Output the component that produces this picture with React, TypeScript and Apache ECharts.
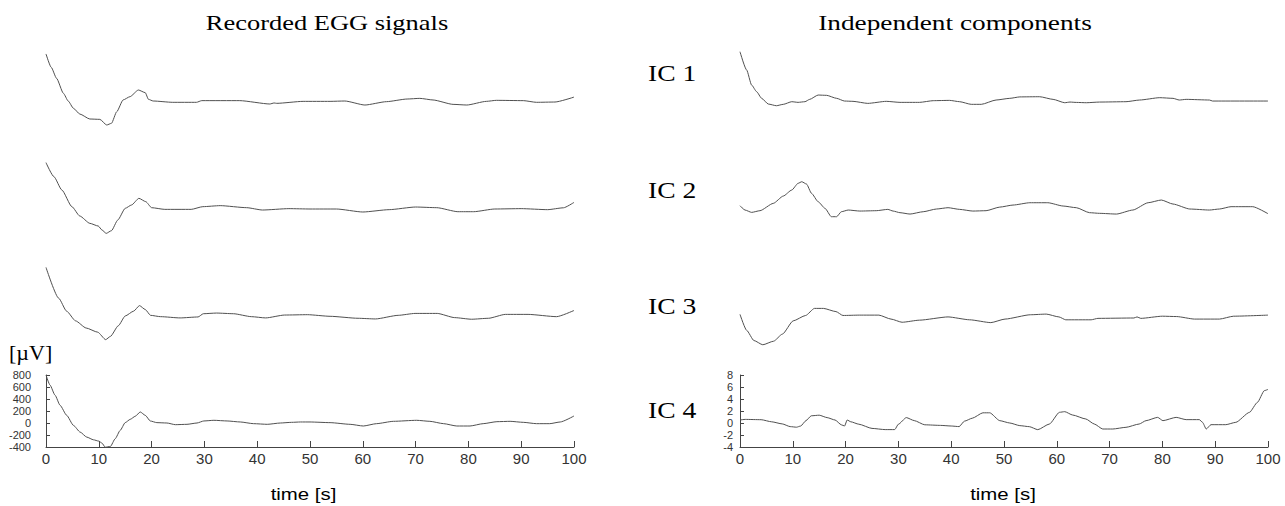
import React, { useEffect, useRef } from "react";
import * as echarts from "echarts";

// ---------- text ----------
const leftTitle = "Recorded EGG signals";
const rightTitle = "Independent components";
const icLabels = ["IC 1", "IC 2", "IC 3", "IC 4"];
const unitLabel = "[\u00b5V]";
const timeLabel = "time [s]";

// ---------- axes ----------
const timeRange = [0, 100];
const timeStep = 10;
const eggRange = [-400, 800];
const eggStep = 200;
const icRange = [-4, 8];
const icStep = 2;

// ---------- recorded EGG signals [µV] (time s, value) ----------
const egg1: [number, number][] = [
  [0, 784], [1, 560], [2, 378], [3.3, 128], [4.2, 0], [5.2, -122], [6.4, -217], [8.3, -300], [10.2, -306],
  [11.5, -400], [12.4, -372], [13.4, -178], [14.6, 17], [15.9, 72], [17.5, 183], [18.8, 139],
  [19.4, 28], [20.3, 0], [24, -22], [28.5, -22], [29.5, 6], [36.7, 6], [42.4, -50], [43.2, -33],
  [43.7, -39], [48.7, -6], [53.8, -6], [56.6, 0], [60.4, -67], [64.5, -11], [68.4, 33], [70.8, 44],
  [73.3, 17], [77.1, -56], [79.7, -67], [83.4, -6], [85.3, 11], [90.4, 6], [92.9, -22], [96.4, -17],
  [100, 65],
];
const egg2: [number, number][] = [
  [0, 773], [1.5, 539], [3, 317], [4.9, 39], [6.4, -117], [8.3, -239], [9.9, -284], [10.6, -350],
  [11.4, -406], [12.4, -361], [13.6, -183], [15, 11], [16.2, 67], [17.6, 178], [18.9, 122], [20, 22],
  [22.5, -6], [27.5, -6], [29.7, 39], [33, 56], [38, 22], [41, -17], [46, 6], [50, 0], [55, 0],
  [60, -50], [65, -11], [70, 33], [74, 22], [78, -45], [81, -45], [85, 0], [90, 6], [95, -11],
  [98, 20], [100, 110],
];
const egg3: [number, number][] = [
  [0, 810], [2.4, 297], [3.9, 81], [5.6, -81], [7.6, -200], [9.8, -270], [11.3, -394], [12.2, -340],
  [13.7, -162], [15, 0], [16.6, 81], [17.7, 173], [18.8, 108], [19.8, 11], [21.7, -11], [25.4, -32],
  [28.8, -16], [29.8, 38], [32.3, 49], [35.5, 38], [38.9, -11], [41.6, -32], [45.2, 16], [49.5, 22],
  [53.8, -5], [59.1, -38], [62.4, -49], [66.7, 11], [69.9, 43], [74.1, 43], [77.4, -27], [80.6, -54],
  [83.8, -38], [87, 27], [91.3, 27], [96.7, -11], [100, 92],
];
const egg4: [number, number][] = [
  [0, 800], [0.76, 632], [1.71, 464], [2.66, 296], [3.92, 128], [5.19, -39], [6.46, -151],
  [7.72, -235], [8.99, -280], [10, -302], [10.6, -335], [11.2, -403], [12.2, -391], [13.1, -263],
  [14.05, -123], [15, 6], [15.95, 61], [16.9, 112], [17.85, 184], [18.8, 128], [19.75, 34], [21, 6],
  [22.9, 0], [24.5, -28], [26.7, -22], [28.6, 0], [29.9, 34], [31.8, 45], [34.3, 34], [36.8, 17],
  [39.3, -11], [41.9, -22], [44.4, 0], [46.5, 11], [48.2, 17], [50, 17], [53.8, 6], [57.6, -22],
  [60.1, -50], [62.6, -11], [65.8, 28], [70.2, 45], [72.7, 28], [75.3, -11], [77.8, -50], [80.3, -50],
  [82.8, -11], [85.4, 22], [87.9, 28], [90.4, 11], [92.9, -11], [95.4, -11], [97.4, 17], [100, 117],
];

// ---------- independent components (time s, value) ----------
const ic1: [number, number][] = [
  [0, 8.33], [1.26, 5.28], [2.2, 2.78], [3.15, 1.67], [4.1, 0.56], [5.36, -0.39], [6.9, -0.67],
  [8.2, -0.44], [9.8, 0], [11, -0.11], [12.3, 0], [13.2, 0.39], [14.8, 1.11], [16.4, 1.06],
  [18.3, 0.56], [19.8, 0.11], [21.4, 0.06], [24.2, -0.28], [27.7, 0.06], [30.3, -0.11], [34, -0.11],
  [36.6, 0.17], [39.7, 0.22], [41.6, 0], [43.8, -0.44], [45.7, -0.44], [48.5, 0.28], [51.1, 0.56],
  [53, 0.8], [56.75, 0.83], [59.3, 0.39], [61.5, -0.17], [62.5, -0.06], [63.7, -0.12], [65.6, -0.17],
  [68.1, -0.06], [73.1, 0], [75.7, 0.28], [79.5, 0.67], [82, 0.56], [83.2, 0.28], [84.5, 0.39],
  [88.9, 0.28], [89.5, 0.11], [100, 0.11],
];
const ic2: [number, number][] = [
  [0, 0.83], [0.95, 0.11], [2.2, -0.28], [3.78, 0], [6.3, 1.22], [8.2, 2.44], [9.8, 3.44], [11, 4.56],
  [11.7, 4.83], [12.6, 4.44], [13.55, 2.89], [14.8, 1.5], [16.1, 0.39], [17.3, -1.0], [18.3, -1.0],
  [19.2, -0.17], [20.5, 0.11], [22.7, -0.06], [25.8, 0], [28, 0.22], [29, -0.06], [30.3, -0.33],
  [32.2, -0.56], [34.7, -0.17], [37.2, 0.28], [39.4, 0.5], [41.6, 0.22], [44.1, -0.06], [46.6, 0],
  [49.2, 0.6], [51.7, 0.94], [54.9, 1.33], [58.3, 1.33], [61.2, 0.78], [63.7, 0.5], [66.2, -0.33],
  [68.1, -0.44], [71.3, -0.56], [74.4, 0.11], [77.3, 1.33], [79.8, 1.78], [82, 1.11], [85.2, 0.28],
  [88.9, 0.11], [90.8, 0.28], [93, 0.67], [97.1, 0.67], [100, -0.5],
];
const ic3: [number, number][] = [
  [0, 0.6], [1.28, -2.08], [2.63, -3.75], [4.32, -4.46], [6.35, -3.87], [8.04, -2.68], [10.07, -0.48],
  [12.43, 0.42], [14.1, 1.6], [15.8, 1.6], [18.17, 1.07], [19.5, 0.42], [22.6, 0.48], [26.3, 0.48],
  [28.6, -0.18], [30.7, -0.71], [34, -0.36], [39.4, 0.18], [43.5, -0.3], [47.5, -0.77], [50.2, -0.18],
  [55, 0.54], [58, 0.65], [60.4, 0.18], [61.7, -0.3], [66.5, -0.3], [67.8, -0.06], [74.6, 0],
  [75.2, 0.18], [75.9, -0.06], [80, 0.3], [82.7, 0.24], [86.1, -0.18], [90.8, -0.18], [93.5, 0.3],
  [100, 0.48],
];
const ic4: [number, number][] = [
  [0, 0.5], [1, 0.6], [4, 0.55], [6, 0.2], [8, -0.15], [9.5, -0.6], [10.7, -0.7], [11.5, -0.5],
  [12.5, 0.4], [13.5, 1.2], [15, 1.3], [16.5, 0.9], [18, 0.5], [19.2, -0.3], [19.8, -0.5], [20.3, 0.5],
  [21, 0.2], [22.5, -0.2], [25, -0.9], [27.5, -1.1], [29.3, -1.1], [30, -0.2], [31.5, 0.9], [33, 0.4],
  [35, -0.3], [38, -0.4], [40, -0.5], [41.5, -0.6], [42.5, 0.3], [44, 0.8], [46, 1.7], [47.3, 1.7],
  [49.2, 0.39], [51.1, 0], [53, -0.44], [54.8, -0.61], [56.4, -1.11], [58.6, -0.17], [60.5, 1.78],
  [61.5, 1.89], [63, 1.33], [65.5, 0.67], [67.1, -0.17], [68.7, -1.0], [70.6, -1.0], [73.1, -0.72],
  [75.6, -0.17], [76.9, 0.39], [79.1, 0.94], [80.1, 0.39], [82.6, 0.94], [84.5, 0.56], [87, 0.56],
  [87.6, 0.11], [88.3, -1.0], [89.2, -0.28], [92, -0.28], [93.9, 0.11], [96.5, 1.78], [98, 3.44],
  [99.3, 5.39], [100, 5.6],
];

const eggSeries = [egg1, egg2, egg3, egg4];
const icSeries = [ic1, ic2, ic3, ic4];

// layout (pixels)
const LEFT_X = 46;
const RIGHT_X = 740;
const PLOT_W = 528;
const PLOT_H = 72;
const eggZero = [101, 209, 316, 423];
const icZero = [101.7, 210.7, 318, 423];
const icLabelY = [73, 190, 306, 410];

const LINE = "#505050";
const AXIS = "#444";

export default function App() {
  const ref = useRef<HTMLDivElement>(null);

  useEffect(() => {
    if (!ref.current) return;
    const chart = echarts.init(ref.current, undefined, { renderer: "svg" });

    const grids: any[] = [];
    const xAxes: any[] = [];
    const yAxes: any[] = [];
    const series: any[] = [];

    const addPanel = (
      left: number,
      zero: number,
      range: number[],
      step: number,
      data: [number, number][],
      withAxes: boolean,
      yMargin: number
    ) => {
      const idx = grids.length;
      const above = ((range[1] - 0) / (range[1] - range[0])) * PLOT_H;
      grids.push({ left, top: zero - above, width: PLOT_W, height: PLOT_H, containLabel: false });
      xAxes.push({
        gridIndex: idx,
        type: "value",
        min: timeRange[0],
        max: timeRange[1],
        interval: timeStep,
        show: withAxes,
        axisLine: { show: true, onZero: false, lineStyle: { color: AXIS, width: 1 } },
        axisTick: { show: true, inside: true, length: 6, lineStyle: { color: AXIS } },
        axisLabel: {
          show: true,
          margin: 4,
          fontSize: 15,
          fontFamily: "Liberation Sans, Arial, sans-serif",
          color: "#333",
        },
        splitLine: { show: false },
      });
      yAxes.push({
        gridIndex: idx,
        type: "value",
        min: range[0],
        max: range[1],
        interval: step,
        show: withAxes,
        axisLine: { show: true, lineStyle: { color: AXIS, width: 1 } },
        axisTick: { show: true, inside: true, length: 4, lineStyle: { color: AXIS } },
        axisLabel: {
          show: true,
          margin: yMargin,
          fontSize: 11,
          lineHeight: 11,
          fontFamily: "Liberation Sans, Arial, sans-serif",
          color: "#333",
        },
        splitLine: { show: false },
      });
      series.push({
        type: "line",
        xAxisIndex: idx,
        yAxisIndex: idx,
        data,
        showSymbol: false,
        symbol: "none",
        smooth: 0.2,
        smoothMonotone: "x",
        clip: false,
        silent: true,
        lineStyle: { color: LINE, width: 1 },
      });
    };

    eggSeries.forEach((d, i) => addPanel(LEFT_X, eggZero[i], eggRange, eggStep, d, i === 3, 15));
    icSeries.forEach((d, i) => addPanel(RIGHT_X, icZero[i], icRange, icStep, d, i === 3, 7));

    const serif = "Liberation Serif, Times New Roman, serif";
    const sans = "Liberation Sans, Arial, sans-serif";
    const graphics: any[] = [
      {
        type: "text",
        x: 327,
        y: 23,
        scaleX: 1.26,
        style: { text: leftTitle, fontSize: 21, fontFamily: serif, fill: "#000", textAlign: "center", textVerticalAlign: "middle" },
      },
      {
        type: "text",
        x: 955,
        y: 23,
        scaleX: 1.3,
        style: { text: rightTitle, fontSize: 21, fontFamily: serif, fill: "#000", textAlign: "center", textVerticalAlign: "middle" },
      },
      {
        type: "text",
        x: 9,
        y: 352,
        style: { text: unitLabel, fontSize: 22, fontFamily: serif, fill: "#000", textAlign: "left", textVerticalAlign: "middle" },
      },
      {
        type: "text",
        x: 303.5,
        y: 494,
        scaleX: 1.2,
        style: { text: timeLabel, fontSize: 17, fontFamily: sans, fill: "#000", textAlign: "center", textVerticalAlign: "middle" },
      },
      {
        type: "text",
        x: 1003,
        y: 494,
        scaleX: 1.2,
        style: { text: timeLabel, fontSize: 17, fontFamily: sans, fill: "#000", textAlign: "center", textVerticalAlign: "middle" },
      },
      ...icLabels.map((t, i) => ({
        type: "text",
        x: 648,
        y: icLabelY[i],
        scaleX: 1.15,
        style: { text: t, fontSize: 24, fontFamily: serif, fill: "#000", textAlign: "left", textVerticalAlign: "middle" },
      })),
    ];

    chart.setOption({
      animation: false,
      backgroundColor: "#fff",
      grid: grids,
      xAxis: xAxes,
      yAxis: yAxes,
      series,
      graphic: graphics,
    });

    return () => chart.dispose();
  }, []);

  return (
    <div
      ref={ref}
      style={{ position: "fixed", left: 0, top: 0, width: 1285, height: 506, background: "#fff" }}
    />
  );
}
